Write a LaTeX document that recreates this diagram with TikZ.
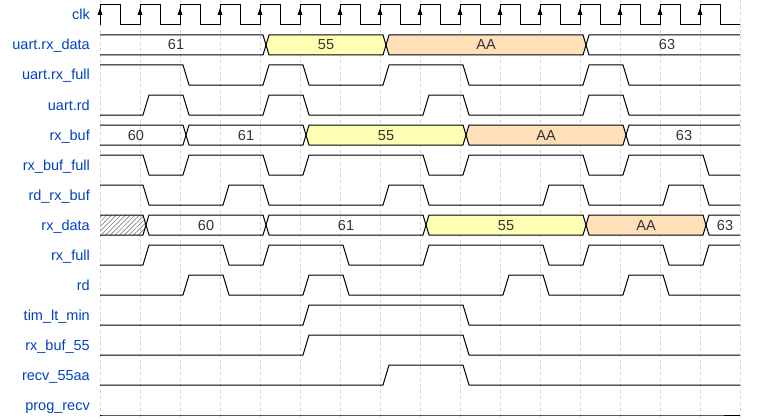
\documentclass[tikz,border=0pt]{standalone}
\usepackage{fontspec}
\setmainfont{Liberation Sans}
\usetikzlibrary{patterns.meta}
\definecolor{sigblue}{HTML}{0041C4}
\definecolor{busyellow}{HTML}{FFFFB4}
\definecolor{busorange}{HTML}{FFE0B9}
\newcommand\wave[4]{%
  \draw[sig] (100,{#2+(#1-#2)*#3}) \foreach \v [count=\k from 0, remember=\v as \p (initially #3)] in {#4}
    { -- ({103+40*\k},{#2+(#1-#2)*\p}) -- ({109+40*\k},{#2+(#1-#2)*\v}) -- ({140+40*\k},{#2+(#1-#2)*\v}) };}
\newcommand\seg[4]{%
  \fill[#4] ({#2+6},{#1+10}) -- ({#2+9},#1) -- ({#3+3},#1) -- ({#3+6},{#1+10}) -- ({#3+3},{#1+20}) -- ({#2+9},{#1+20}) -- cycle;}
\begin{document}
\begin{tikzpicture}[x=1pt,y=-1pt,font=\fontsize{14.5}{17}\selectfont,
    sig/.style={line width=1pt,line join=round},
    lbl/.style={anchor=base east,inner sep=0pt,text=sigblue},
    val/.style={anchor=base,inner sep=0pt,text=black!80},
    gridline/.style={gray!35,line width=0.8pt,dash pattern=on 3pt off 3pt}]
  \useasboundingbox (0,0) rectangle (760,420);
  \foreach \k in {0,...,16} \draw[gridline] ({100+40*\k},0) -- ({100+40*\k},420);
  \foreach \n [count=\i from 0] in {clk,uart.rx\_data,uart.rx\_full,uart.rd,rx\_buf,rx\_buf\_full,rd\_rx\_buf,rx\_data,rx\_full,rd,tim\_lt\_min,rx\_buf\_55,recv\_55aa,prog\_recv}
    \node[lbl] (name\i) at (90,{20+30*\i}) {\n};
  \seg{35}{260}{380}{busyellow}
  \seg{35}{380}{580}{busorange}
  \seg{125}{300}{460}{busyellow}
  \seg{125}{460}{620}{busorange}
  \seg{215}{420}{580}{busyellow}
  \seg{215}{580}{700}{busorange}
  \fill[pattern={Lines[angle=45,distance=3.3pt,line width=0.6pt]},pattern color=gray] (100,215) -- (143,215) -- (146,225) -- (143,235) -- (100,235) -- cycle;
  \draw[sig] (100,25) \foreach \k in {0,...,15} { -- ({100+40*\k},5) -- ({120+40*\k},5) -- ({120+40*\k},25) -- ({140+40*\k},25) };
  \foreach \k in {0,...,15} \fill ({100+40*\k},8) -- ++(-2.5,7) -- ++(5,0) -- cycle;
  \wave{35}{55}{1}{1,1,1,1,0,0,0,1,1,1,1,1,0,0,0,0}
  \wave{55}{35}{1}{1,1,1,1,0,0,0,1,1,1,1,1,0,0,0,0}
  \wave{65}{85}{1}{1,1,0,0,1,0,0,1,1,0,0,0,1,0,0,0}
  \wave{95}{115}{0}{0,1,0,0,1,0,0,0,1,0,0,0,1,0,0,0}
  \wave{125}{145}{1}{1,1,0,0,0,1,1,1,1,0,0,0,0,1,1,1}
  \wave{145}{125}{1}{1,1,0,0,0,1,1,1,1,0,0,0,0,1,1,1}
  \wave{155}{175}{1}{1,0,1,1,0,1,1,1,0,1,1,1,0,1,1,0}
  \wave{185}{205}{1}{1,0,0,1,0,0,0,1,0,0,0,1,0,0,1,0}
  \wave{215}{235}{1}{1,0,0,0,1,1,1,1,0,0,0,0,1,1,1,0}
  \wave{235}{215}{1}{1,0,0,0,1,1,1,1,0,0,0,0,1,1,1,0}
  \wave{245}{265}{0}{0,1,1,0,1,1,0,0,1,1,1,0,1,1,0,1}
  \wave{275}{295}{0}{0,0,1,0,0,1,0,0,0,0,1,0,0,1,0,0}
  \wave{305}{325}{0}{0,0,0,0,0,1,1,1,1,0,0,0,0,0,0,0}
  \wave{335}{355}{0}{0,0,0,0,0,1,1,1,1,0,0,0,0,0,0,0}
  \wave{365}{385}{0}{0,0,0,0,0,0,0,1,1,0,0,0,0,0,0,0}
  \wave{395}{415}{0}{0,0,0,0,0,0,0,0,0,0,0,0,0,0,0,0}
  \foreach \x/\t [count=\j] in {176/61,326/55,486/AA,667/63}
    \node[val] (urx\j) at (\x,50) {\t};
  \foreach \x/\t [count=\j] in {136/60,246/61,386/55,546/AA,684/63}
    \node[val] (buf\j) at (\x,140) {\t};
  \foreach \x/\t [count=\j] in {206/60,346/61,506/55,646/AA,725/63}
    \node[val] (dat\j) at (\x,230) {\t};
\end{tikzpicture}
\end{document}
